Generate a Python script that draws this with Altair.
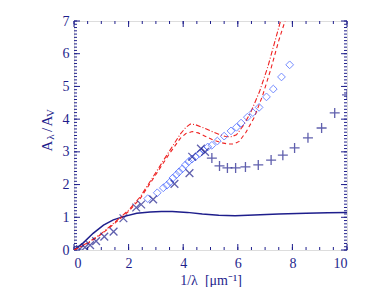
import altair as alt
import pandas as pd

# ---- data ----
line_x = [0, 0.33, 0.7, 1.08, 1.44, 1.81, 2.3, 2.79, 3.2, 3.6, 4.15, 4.7, 5.3, 5.9, 6.6, 7.5, 8.5, 9.3, 10]
line_y = [0, 0.21, 0.51, 0.76, 0.92, 1.02, 1.12, 1.16, 1.18, 1.18, 1.15, 1.1, 1.06, 1.05, 1.07, 1.1, 1.12, 1.14, 1.15]

red1_x = [0, 0.5, 1, 1.5, 2, 2.43, 2.9, 3.5, 3.9, 4.1, 4.26, 4.45, 4.7, 5.0, 5.3, 5.55, 5.75, 5.95, 6.2, 6.47, 6.8, 7.1, 7.4, 7.6, 7.8]
red1_y = [0, 0.22, 0.5, 0.85, 1.22, 1.63, 2.24, 3.03, 3.55, 3.75, 3.85, 3.83, 3.75, 3.64, 3.54, 3.47, 3.46, 3.52, 3.8, 4.2, 4.85, 5.6, 6.5, 7.1, 7.7]

red2_x = [0, 0.5, 1, 1.5, 2, 2.43, 2.9, 3.5, 3.9, 4.1, 4.33, 4.55, 4.8, 5.1, 5.4, 5.65, 5.85, 6.05, 6.3, 6.6, 6.9, 7.2, 7.5, 7.75, 7.95]
red2_y = [0, 0.2, 0.48, 0.82, 1.18, 1.58, 2.18, 2.95, 3.42, 3.56, 3.62, 3.58, 3.48, 3.36, 3.28, 3.24, 3.24, 3.32, 3.6, 4.05, 4.7, 5.5, 6.4, 7.05, 7.6]

dia_x = [2.7, 3.05, 3.27, 3.4, 3.52, 3.62, 3.75, 3.85, 3.97, 4.08, 4.2, 4.32, 4.45, 4.6, 4.75, 4.9,
         5.05, 5.25, 5.5, 5.75, 5.95, 6.12, 6.35, 6.55, 6.78, 7.05, 7.3, 7.6, 7.9]
dia_y = [1.57, 1.75, 1.9, 1.98, 2.08, 2.2, 2.3, 2.39, 2.48, 2.6, 2.7, 2.78, 2.85, 2.95, 3.05, 3.15,
         3.2, 3.33, 3.48, 3.64, 3.75, 3.88, 4.06, 4.2, 4.36, 4.68, 4.92, 5.29, 5.66]

cross_x = [0.22, 0.4, 0.59, 0.81, 1.11, 1.45, 1.81, 2.28, 2.46, 2.9, 3.68, 4.23, 4.33, 4.65, 4.8]
cross_y = [0.03, 0.08, 0.15, 0.27, 0.41, 0.56, 0.97, 1.3, 1.39, 1.55, 2.02, 2.35, 2.85, 3.1, 3.0]

plus_x = [5.05, 5.33, 5.62, 5.92, 6.28, 6.75, 7.22, 7.65, 8.08, 8.57, 9.07, 9.55, 10.0]
plus_y = [2.81, 2.57, 2.51, 2.51, 2.54, 2.6, 2.75, 2.9, 3.12, 3.43, 3.73, 4.19, 4.74]

x_major = [0, 2, 4, 6, 8, 10]
x_minor = [i * 0.5 for i in range(21)]
y_major = [0, 1, 2, 3, 4, 5, 6, 7]
y_minor = [round(i * 0.1, 1) for i in range(71)]

NAVY = "#1e1e8c"
RED = "#ee2222"
BLUE = "#3a5cff"
FONT = "Liberation Serif"
W, H = 273, 229

xs = alt.Scale(domain=[0, 10], nice=False, zero=False)
ys = alt.Scale(domain=[0, 7], nice=False, zero=False)
xaxis = alt.Axis(values=x_major, ticks=False, domain=False, grid=False, labelFont=FONT,
                 labelFontSize=14, labelColor=NAVY, labelPadding=6, title="1/λ\u00a0\u00a0[μm⁻¹]",
                 titleFont=FONT, titleFontSize=14, titleColor=NAVY, titleFontWeight="normal",
                 titleBaseline="alphabetic", titleY=34)
yaxis = alt.Axis(values=y_major, ticks=False, domain=False, grid=False, labelFont=FONT,
                 labelFontSize=14, labelColor=NAVY, labelPadding=5, title=None)


def X():
    return alt.X("x:Q", scale=xs, axis=xaxis)


def Y():
    return alt.Y("y:Q", scale=ys, axis=yaxis)


def df(xv, yv):
    return pd.DataFrame({"x": xv, "y": yv})


solid = alt.Chart(df(line_x, line_y)).mark_line(color=NAVY, strokeWidth=1.5, clip=True).encode(x=X(), y=Y())
red1 = alt.Chart(df(red1_x, red1_y)).mark_line(color=RED, strokeWidth=1.1, strokeDash=[5, 2, 1, 2], clip=True).encode(x=X(), y=Y())
red2 = alt.Chart(df(red2_x, red2_y)).mark_line(color=RED, strokeWidth=1.1, strokeDash=[4, 3], clip=True).encode(x=X(), y=Y())
dia = alt.Chart(df(dia_x, dia_y)).mark_point(shape="diamond", filled=False, color=BLUE, size=60, strokeWidth=1, clip=True).encode(x=X(), y=Y())
crs = alt.Chart(df(cross_x, cross_y)).mark_point(shape="M-1,-1L1,1M-1,1L1,-1", filled=False, color=NAVY, size=60, strokeWidth=1.3, clip=True).encode(x=X(), y=Y())
pls = alt.Chart(df(plus_x, plus_y)).mark_point(shape="M-1,0L1,0M0,-1L0,1", filled=False, color=NAVY, size=100, strokeWidth=1.3, clip=True).encode(x=X(), y=Y())

tick_layers = []
for vals, ln in [(x_major, 6), (x_minor, 3)]:
    d = pd.DataFrame({"x": vals})
    tick_layers.append(alt.Chart(d).mark_rule(color=NAVY, strokeWidth=1).encode(x=X(), y=alt.value(H), y2=alt.value(H - ln)))
    tick_layers.append(alt.Chart(d).mark_rule(color=NAVY, strokeWidth=1).encode(x=X(), y=alt.value(0), y2=alt.value(ln)))
for vals, ln in [(y_major, 6), (y_minor, 3)]:
    d = pd.DataFrame({"y": vals})
    tick_layers.append(alt.Chart(d).mark_rule(color=NAVY, strokeWidth=1).encode(y=Y(), x=alt.value(0), x2=alt.value(ln)))
    tick_layers.append(alt.Chart(d).mark_rule(color=NAVY, strokeWidth=1).encode(y=Y(), x=alt.value(W), x2=alt.value(W - ln)))

# y-axis title A_λ / A_V built from rotated text pieces
ttl = pd.DataFrame({
    "t": ["A", "λ", "/", "A", "V"],
    "px": [-27, -23, -27, -27, -23],
    "py": [125, 116, 109, 100, 92],
    "fs": [15, 11, 15, 15, 11],
})
title_parts = []
for _, r in ttl.iterrows():
    title_parts.append(
        alt.Chart(pd.DataFrame({"t": [r["t"]]})).mark_text(
            angle=270, font=FONT, fontSize=int(r["fs"]), color=NAVY, align="center", baseline="middle"
        ).encode(text="t:N", x=alt.value(int(r["px"])), y=alt.value(int(r["py"])))
    )

chart = alt.layer(*tick_layers, solid, red1, red2, dia, crs, pls, *title_parts).properties(
    width=W, height=H,
    autosize=alt.AutoSizeParams(type="none"),
    padding={"left": 66, "top": 13, "right": 18, "bottom": 37},
).configure_view(stroke=NAVY, strokeWidth=1.2).configure(background="white")

chart.save("out.html", embed_options={"renderer": "svg", "actions": False})
